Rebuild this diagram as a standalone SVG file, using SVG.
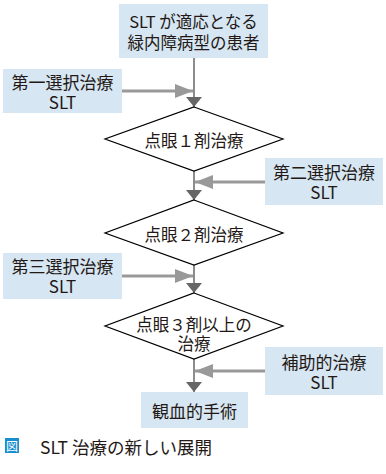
<svg xmlns="http://www.w3.org/2000/svg" width="386" height="474" viewBox="0 0 386 474">
<defs>
<style>
text{font-family:"Noto Sans CJK JP","Noto Sans",sans-serif;font-size:16.5px;fill:#231815;text-anchor:middle;dominant-baseline:central}
.sb{font-size:17px}
.box{fill:#d6e6f2}
.dia{fill:#fff;stroke:#000;stroke-width:1.2}
.main{stroke:#666;stroke-width:1.5;fill:none}
.side{stroke:#999;stroke-width:3;fill:none}
</style>
<marker id="ah" markerUnits="userSpaceOnUse" markerWidth="10" markerHeight="16" refX="10" refY="8" orient="auto" viewBox="0 0 10 16"><path d="M0,0 L10,8 L0,16 Z" fill="#666"/></marker>
<marker id="gh" markerUnits="userSpaceOnUse" markerWidth="18" markerHeight="14" refX="18" refY="7" orient="auto" viewBox="0 0 18 14"><path d="M0,0 L18,7 L0,14 Z" fill="#999"/></marker>
</defs>
<g id="connectors">
<line class="main" x1="194" y1="58" x2="194" y2="107" marker-end="url(#ah)"/>
<line class="side" x1="122" y1="91" x2="193" y2="91" marker-end="url(#gh)"/>
<line class="main" x1="194" y1="171" x2="194" y2="200" marker-end="url(#ah)"/>
<line class="side" x1="265" y1="182" x2="195" y2="182" marker-end="url(#gh)"/>
<line class="main" x1="194" y1="265" x2="194" y2="293" marker-end="url(#ah)"/>
<line class="side" x1="122" y1="276" x2="193" y2="276" marker-end="url(#gh)"/>
<line class="main" x1="194" y1="359" x2="194" y2="392" marker-end="url(#ah)"/>
<line class="side" x1="265" y1="371" x2="195" y2="371" marker-end="url(#gh)"/>
</g>
<g id="start"><rect class="box" x="119" y="4" width="149" height="54"/><text x="193.5" y="20.5">SLT が適応となる</text><text x="193.5" y="42">緑内障病型の患者</text></g>
<g id="first"><rect class="box" x="3" y="69" width="119" height="44"/><text class="sb" x="62.5" y="81">第一選択治療</text><text class="sb" x="62.5" y="101">SLT</text></g>
<g id="d1"><polygon class="dia" points="194,107 283,139 194,171 105,139"/><text x="194" y="140">点眼１剤治療</text></g>
<g id="second"><rect class="box" x="265" y="158" width="118" height="47"/><text class="sb" x="324" y="171">第二選択治療</text><text class="sb" x="324" y="191">SLT</text></g>
<g id="d2"><polygon class="dia" points="194,200 283,233 194,265 105,233"/><text x="194" y="234">点眼２剤治療</text></g>
<g id="third"><rect class="box" x="3" y="253" width="119" height="46"/><text class="sb" x="62.5" y="265">第三選択治療</text><text class="sb" x="62.5" y="285">SLT</text></g>
<g id="d3"><polygon class="dia" points="194,293 283,326 194,359 105,326"/><text x="194" y="324">点眼３剤以上の</text><text x="194" y="343">治療</text></g>
<g id="adj"><rect class="box" x="265" y="347" width="118" height="48"/><text class="sb" x="324" y="361">補助的治療</text><text class="sb" x="324" y="381">SLT</text></g>
<g id="surgery"><rect class="box" x="141" y="392" width="107" height="36"/><text class="sb" x="194.5" y="410">観血的手術</text></g>
<g id="caption"><rect x="5" y="438" width="14" height="15" fill="#1a8fcf"/><text x="12" y="445.5" style="font-size:12px;fill:#fff">図</text><text x="40" y="446" style="text-anchor:start;font-size:17.5px">SLT 治療の新しい展開</text></g>
</svg>
